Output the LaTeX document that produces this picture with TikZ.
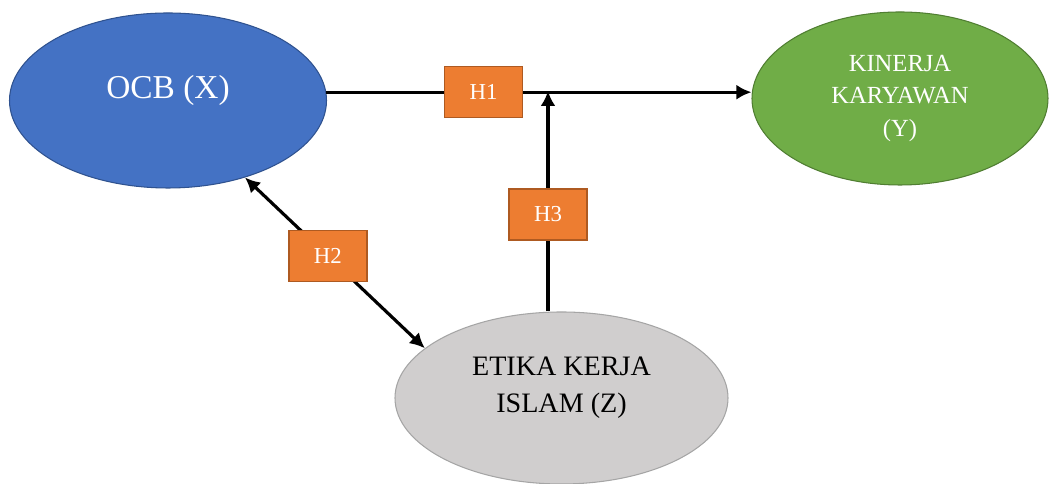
\documentclass[tikz,border=0pt]{standalone}
\usepackage{fontspec}
\setmainfont{Liberation Serif}
\usetikzlibrary{shapes.geometric,arrows.meta}
\definecolor{ocbfill}{HTML}{4472C4}
\definecolor{ocbedge}{HTML}{2F528F}
\definecolor{kinfill}{HTML}{70AD47}
\definecolor{kinedge}{HTML}{507E32}
\definecolor{etikafill}{HTML}{D0CECE}
\definecolor{etikaedge}{HTML}{A5A5A5}
\definecolor{hfill}{HTML}{ED7D31}
\definecolor{hedge}{HTML}{AE5A21}
\begin{document}
\begin{tikzpicture}[
    >={Latex[length=3mm,width=3mm]},
    var/.style={ellipse, line width=0.6pt, inner sep=0pt},
    hbox/.style={rectangle, draw=hedge, fill=hfill, line width=0.9pt, text=white,
      minimum width=1.56cm, minimum height=1.02cm, inner sep=0pt,
      font=\fontsize{13}{15}\selectfont},
    link/.style={line width=1.8pt}
  ]
  \useasboundingbox (0,0) rectangle (21,9.68);

  % variables
  \node[var, fill=ocbfill, draw=ocbedge, minimum width=6.34cm, minimum height=3.5cm] (ocb) at (3.36,7.67) {};
  \node[var, fill=kinfill, draw=kinedge, minimum width=5.92cm, minimum height=3.46cm] (kin) at (18.0,7.71) {};
  \node[var, fill=etikafill, draw=etikaedge, minimum width=6.66cm, minimum height=3.44cm] (etika) at (11.23,1.72) {};

  \node[text=white, font=\fontsize{19}{22}\selectfont] (ocbtxt) at ([yshift=0.2cm]ocb.center) {OCB (X)};
  \node[text=white, align=center, font=\fontsize{14}{18.7}\selectfont] (kintxt) at (kin.center) {KINERJA\\KARYAWAN\\(Y)};
  \node[align=center, font=\fontsize{16}{21}\selectfont] (etikatxt) at ([yshift=0.2cm]etika.center) {ETIKA KERJA\\ISLAM (Z)};

  % hypotheses
  \coordinate (j) at (10.96,7.86);
  \draw[link, ->] (ocb.3) -- node[hbox, pos=0.37] (h1) {H1} (ocb.3 -| kin.west);
  \draw[link, ->] (j |- etika.north) -- node[hbox, pos=0.44] (h3) {H3} (j);
  \draw[link, <->] (ocb.-45) -- node[hbox, pos=0.46] (h2) {H2} (etika.160);
\end{tikzpicture}
\end{document}
